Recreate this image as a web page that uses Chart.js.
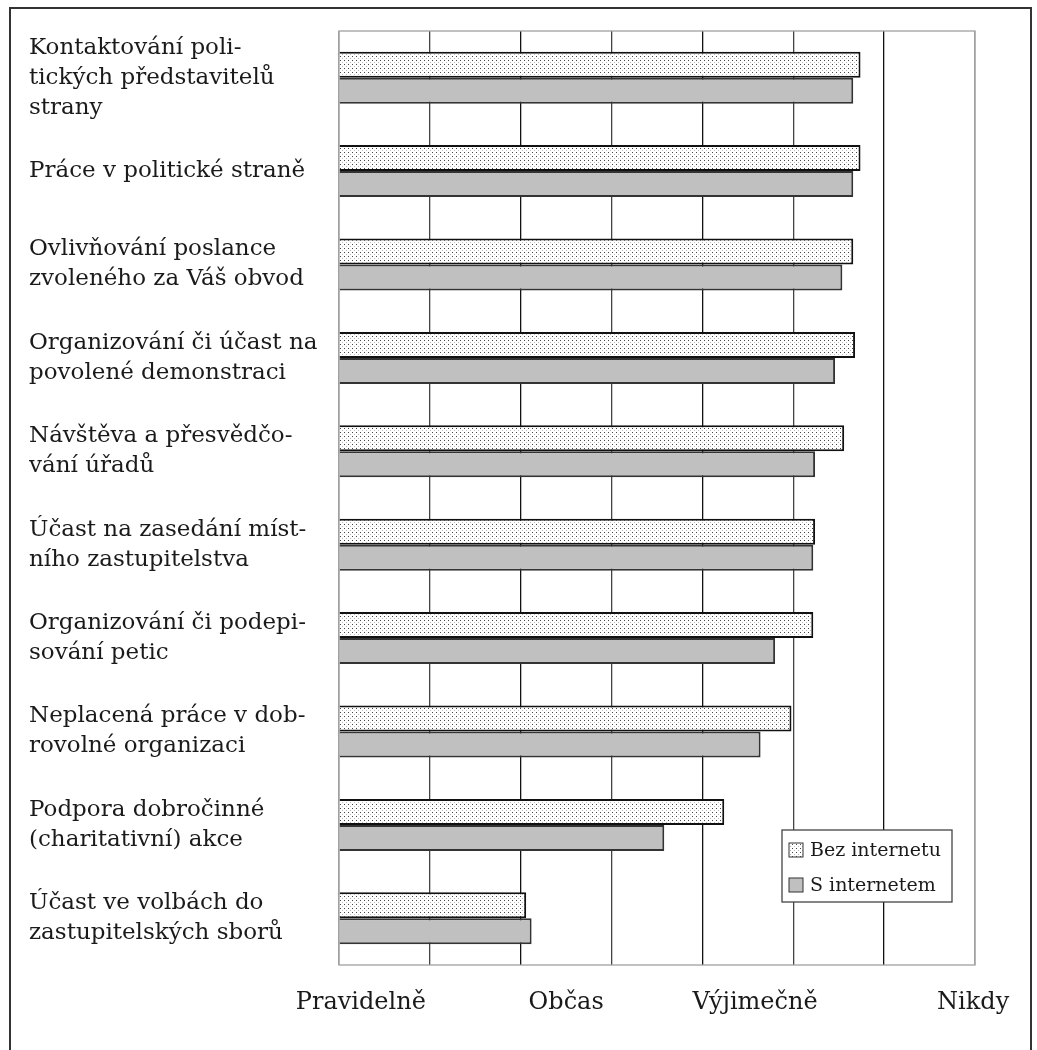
<!DOCTYPE html>
<html lang="cs">
<head>
<meta charset="utf-8">
<title>Politická participace</title>
<script src="https://cdn.jsdelivr.net/npm/chart.js@4.4.1/dist/chart.umd.min.js"></script>
<style>
  html, body { margin: 0; background: #fff; }
  #wrap { width: 1037px; height: 1050px; position: relative; }
</style>
</head>
<body>
<div id="wrap"><canvas id="chart"></canvas></div>
<script>
// activities (y axis), top to bottom
const categories = [
  ['Kontaktování poli-', 'tických představitelů', 'strany'],
  'Práce v politické straně',
  ['Ovlivňování poslance', 'zvoleného za Váš obvod'],
  ['Organizování či účast na', 'povolené demonstraci'],
  ['Návštěva a přesvědčo-', 'vání úřadů'],
  ['Účast na zasedání míst-', 'ního zastupitelstva'],
  ['Organizování či podepi-', 'sování petic'],
  ['Neplacená práce v dob-', 'rovolné organizaci'],
  ['Podpora dobročinné', '(charitativní) akce'],
  ['Účast ve volbách do', 'zastupitelských sborů']
];

// mean frequency, 1 = Pravidelně ... 4 = Nikdy
const bezInternetu = [3.87, 3.87, 3.83, 3.84, 3.78, 3.62, 3.61, 3.49, 3.12, 2.03];
const sInternetem  = [3.83, 3.83, 3.77, 3.73, 3.62, 3.61, 3.40, 3.32, 2.79, 2.06];

const seriesNames = ['Bez internetu', 'S internetem'];
const frequencyLabels = ['Pravidelně', 'Občas', 'Výjimečně', 'Nikdy'];

const SERIF = '"DejaVu Serif", "Liberation Serif", serif';

function stipple(ctx) {
  const c = document.createElement('canvas');
  c.width = 4; c.height = 4;
  const g = c.getContext('2d');
  g.fillStyle = '#fff'; g.fillRect(0, 0, 4, 4);
  g.fillStyle = '#444'; g.fillRect(0, 0, 1, 1);
  g.fillStyle = '#bbb'; g.fillRect(2, 2, 1, 1);
  return ctx.createPattern(c, 'repeat');
}

const frames = {
  id: 'frames',
  beforeDraw(chart) {
    const ctx = chart.ctx;
    ctx.save();
    ctx.fillStyle = '#fff';
    ctx.fillRect(0, 0, chart.width, chart.height);
    ctx.strokeStyle = '#333';
    ctx.lineWidth = 2;
    ctx.strokeRect(10, 8, chart.width - 16, chart.height + 40);
    ctx.restore();
  },
  beforeDatasetsDraw(chart) {
    const ctx = chart.ctx, a = chart.chartArea;
    ctx.save();
    ctx.strokeStyle = '#a0a0a0';
    ctx.lineWidth = 1.3;
    ctx.strokeRect(a.left, a.top, a.right - a.left, a.bottom - a.top);
    ctx.restore();
  }
};

// legend box drawn inside the plot, lower right
const boxLegend = {
  id: 'boxLegend',
  afterDatasetsDraw(chart) {
    const ctx = chart.ctx, a = chart.chartArea;
    const x0 = a.right - 193, y0 = a.bottom - 135;
    ctx.save();
    ctx.fillStyle = '#fff';
    ctx.fillRect(x0, y0, 170, 72);
    ctx.strokeStyle = '#444';
    ctx.lineWidth = 1.3;
    ctx.strokeRect(x0, y0, 170, 72);
    ctx.font = '19px ' + SERIF;
    ctx.textBaseline = 'alphabetic';
    chart.data.datasets.forEach((ds, i) => {
      const sy = y0 + 13 + i * 35;
      ctx.fillStyle = ds.backgroundColor;
      ctx.fillRect(x0 + 7, sy, 14, 14);
      ctx.strokeStyle = '#333';
      ctx.lineWidth = 1;
      ctx.strokeRect(x0 + 7, sy, 14, 14);
      ctx.fillStyle = '#1a1a1a';
      ctx.fillText(ds.label, x0 + 28, sy + 13);
    });
    ctx.restore();
  }
};

const canvas = document.getElementById('chart');
const labelAt = [1.12, 2.25, 3.29, 4.49];

new Chart(canvas, {
  type: 'bar',
  data: {
    labels: categories,
    datasets: [
      {
        label: seriesNames[0],
        data: bezInternetu,
        backgroundColor: stipple(canvas.getContext('2d')),
        borderColor: '#111',
        borderWidth: 2,
        base: 1,
        xAxisID: 'x',
        categoryPercentage: 0.557,
        barPercentage: 1
      },
      {
        label: seriesNames[1],
        data: sInternetem,
        backgroundColor: '#c0c0c0',
        borderColor: '#333',
        borderWidth: 2,
        base: 1,
        xAxisID: 'x',
        categoryPercentage: 0.557,
        barPercentage: 1
      }
    ]
  },
  options: {
    indexAxis: 'y',
    responsive: true,
    maintainAspectRatio: false,
    animation: false,
    layout: { padding: { left: 29, top: 31, right: 62, bottom: 0 } },
    plugins: {
      legend: { display: false },
      tooltip: { enabled: false }
    },
    scales: {
      y: {
        type: 'category',
        grid: { display: false },
        border: { display: false },
        afterFit: axis => { axis.width = 310; },
        ticks: {
          autoSkip: false,
          crossAlign: 'far',
          padding: 0,
          color: '#1a1a1a',
          font: { family: SERIF, size: 23, lineHeight: 30 / 23 }
        }
      },
      x: {
        type: 'linear',
        axis: 'x',
        position: 'bottom',
        weight: 0,
        min: 1,
        max: 4.5,
        border: { display: false },
        grid: {
          drawTicks: false,
          lineWidth: 1.3,
          color: ctx => {
            const v = ctx.tick ? ctx.tick.value : 0;
            if (v <= 1 || v >= 4.5) return '#a0a0a0';
            return Number.isInteger(v) ? '#111' : '#444';
          }
        },
        ticks: { display: false, stepSize: 0.5 },
        afterFit: axis => { axis.height = 0; }
      },
      xl: {
        type: 'linear',
        axis: 'x',
        position: 'bottom',
        weight: 1,
        min: 1,
        max: 4.5,
        grid: { display: false },
        border: { display: false },
        afterBuildTicks: axis => { axis.ticks = labelAt.map(v => ({ value: v })); },
        afterFit: axis => { axis.height = 85; },
        ticks: {
          autoSkip: false,
          maxRotation: 0,
          padding: 15,
          color: '#1a1a1a',
          font: { family: SERIF, size: 24 },
          callback: (v, i) => frequencyLabels[i]
        }
      }
    }
  },
  plugins: [frames, boxLegend]
});
</script>
</body>
</html>
